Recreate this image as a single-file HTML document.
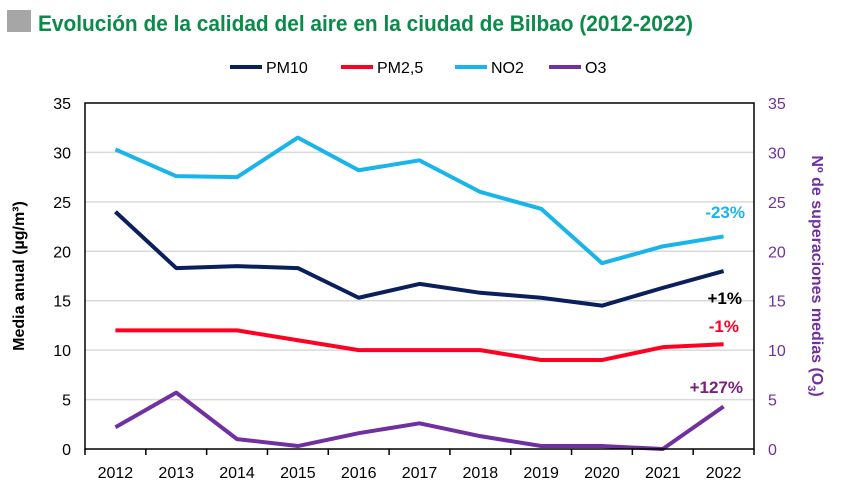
<!DOCTYPE html>
<html><head><meta charset="utf-8"><style>
body{margin:0;background:#fff;}
svg{display:block;font-family:"Liberation Sans",sans-serif;}
</style></head><body>
<svg id="chart" width="844" height="497" viewBox="0 0 844 497">
<rect x="7" y="10" width="24" height="22" fill="#a6a6a6"/>
<text x="38" y="31" font-size="22" font-weight="bold" fill="#0b8a4a" textLength="655" lengthAdjust="spacingAndGlyphs">Evolución de la calidad del aire en la ciudad de Bilbao (2012-2022)</text>
<g id="grid"></g>
<g id="series"></g>
<g id="axes"></g>
<g id="legend" font-size="16" fill="#000"></g>
<text transform="translate(24,276) rotate(-90)" text-anchor="middle" font-size="16" font-weight="bold">Media anual (µg/m³)</text>
<text transform="translate(812,276) rotate(90)" text-anchor="middle" font-size="16" font-weight="bold" fill="#7030a0">Nº de superaciones medias (O<tspan font-size="11" dy="4">3</tspan><tspan dy="-4">)</tspan></text>
<text x="745" y="218" text-anchor="end" font-size="17" font-weight="bold" fill="#19b4ea">-23%</text>
<text x="742" y="304" text-anchor="end" font-size="17" font-weight="bold" fill="#000">+1%</text>
<text x="739" y="332" text-anchor="end" font-size="17" font-weight="bold" fill="#ff0022">-1%</text>
<text x="743" y="393" text-anchor="end" font-size="17" font-weight="bold" fill="#7a1f7a">+127%</text>
</svg>
<script>
const years=["2012","2013","2014","2015","2016","2017","2018","2019","2020","2021","2022"];
const pm10=[24.0,18.3,18.5,18.3,15.3,16.7,15.8,15.3,14.5,16.3,18.0];
const pm25=[12.0,12.0,12.0,11.0,10.0,10.0,10.0,9.0,9.0,10.3,10.6];
const no2=[30.3,27.6,27.5,31.5,28.2,29.2,26.0,24.3,18.8,20.5,21.5];
const o3=[2.2,5.7,1.0,0.3,1.6,2.6,1.3,0.3,0.3,0.0,4.3];
const yTicks=[0,5,10,15,20,25,30,35];
const NS="http://www.w3.org/2000/svg";
const L=85,R=754,T=103,B=449,yMax=35;
const bw=(R-L)/years.length;
function x(i){return L+bw*(i+0.5);}
function y(v){return B-(v/yMax)*(B-T);}
function mk(tag,attrs,parent){const e=document.createElementNS(NS,tag);for(const k in attrs)e.setAttribute(k,attrs[k]);parent.appendChild(e);return e;}
const grid=document.getElementById('grid'),axes=document.getElementById('axes'),ser=document.getElementById('series'),leg=document.getElementById('legend');
yTicks.forEach(t=>{
 if(t>0&&t<yMax){const g=mk('line',{x1:L,x2:R,y1:y(t),y2:y(t),stroke:'#d9d9d9','stroke-width':1.5},grid);
 
 }
 const a=mk('text',{x:L-14,y:y(t)+6,'text-anchor':'end','font-size':16},axes);a.textContent=t;
 
 
 const b=mk('text',{x:R+14,y:y(t)+6,'font-size':16,fill:'#7030a0'},axes);b.textContent=t;
 
 
});
const box=mk('rect',{x:L,y:T,width:R-L,height:B-T,fill:'none',stroke:'#000','stroke-width':1.5},axes);


for(let i=0;i<=years.length;i++){const tk=mk('line',{x1:L+bw*i,x2:L+bw*i,y1:B,y2:B+6,stroke:'#000','stroke-width':1.5},axes);
 
 }
years.forEach((yr,i)=>{const t=mk('text',{x:x(i),y:B+29,'text-anchor':'middle','font-size':16},axes);t.textContent=yr;
 
 });
const series=[["PM10",pm10,"#0a1f5c",230],["PM2,5",pm25,"#ff0022",341],["NO2",no2,"#19b4ea",455],["O3",o3,"#7030a0",549]];
series.forEach(([n,d,c,lx])=>{
 const p=mk('polyline',{points:d.map((v,i)=>x(i)+','+y(v)).join(' '),fill:'none',stroke:c,'stroke-width':4,'stroke-linejoin':'round'},ser);
 
 
 const ll=mk('line',{x1:lx,x2:lx+32,y1:67,y2:67,stroke:c,'stroke-width':4},leg);
 
 
 const lt=mk('text',{x:lx+36,y:73},leg);lt.textContent=n;
 
 
});
</script>
</body></html>
